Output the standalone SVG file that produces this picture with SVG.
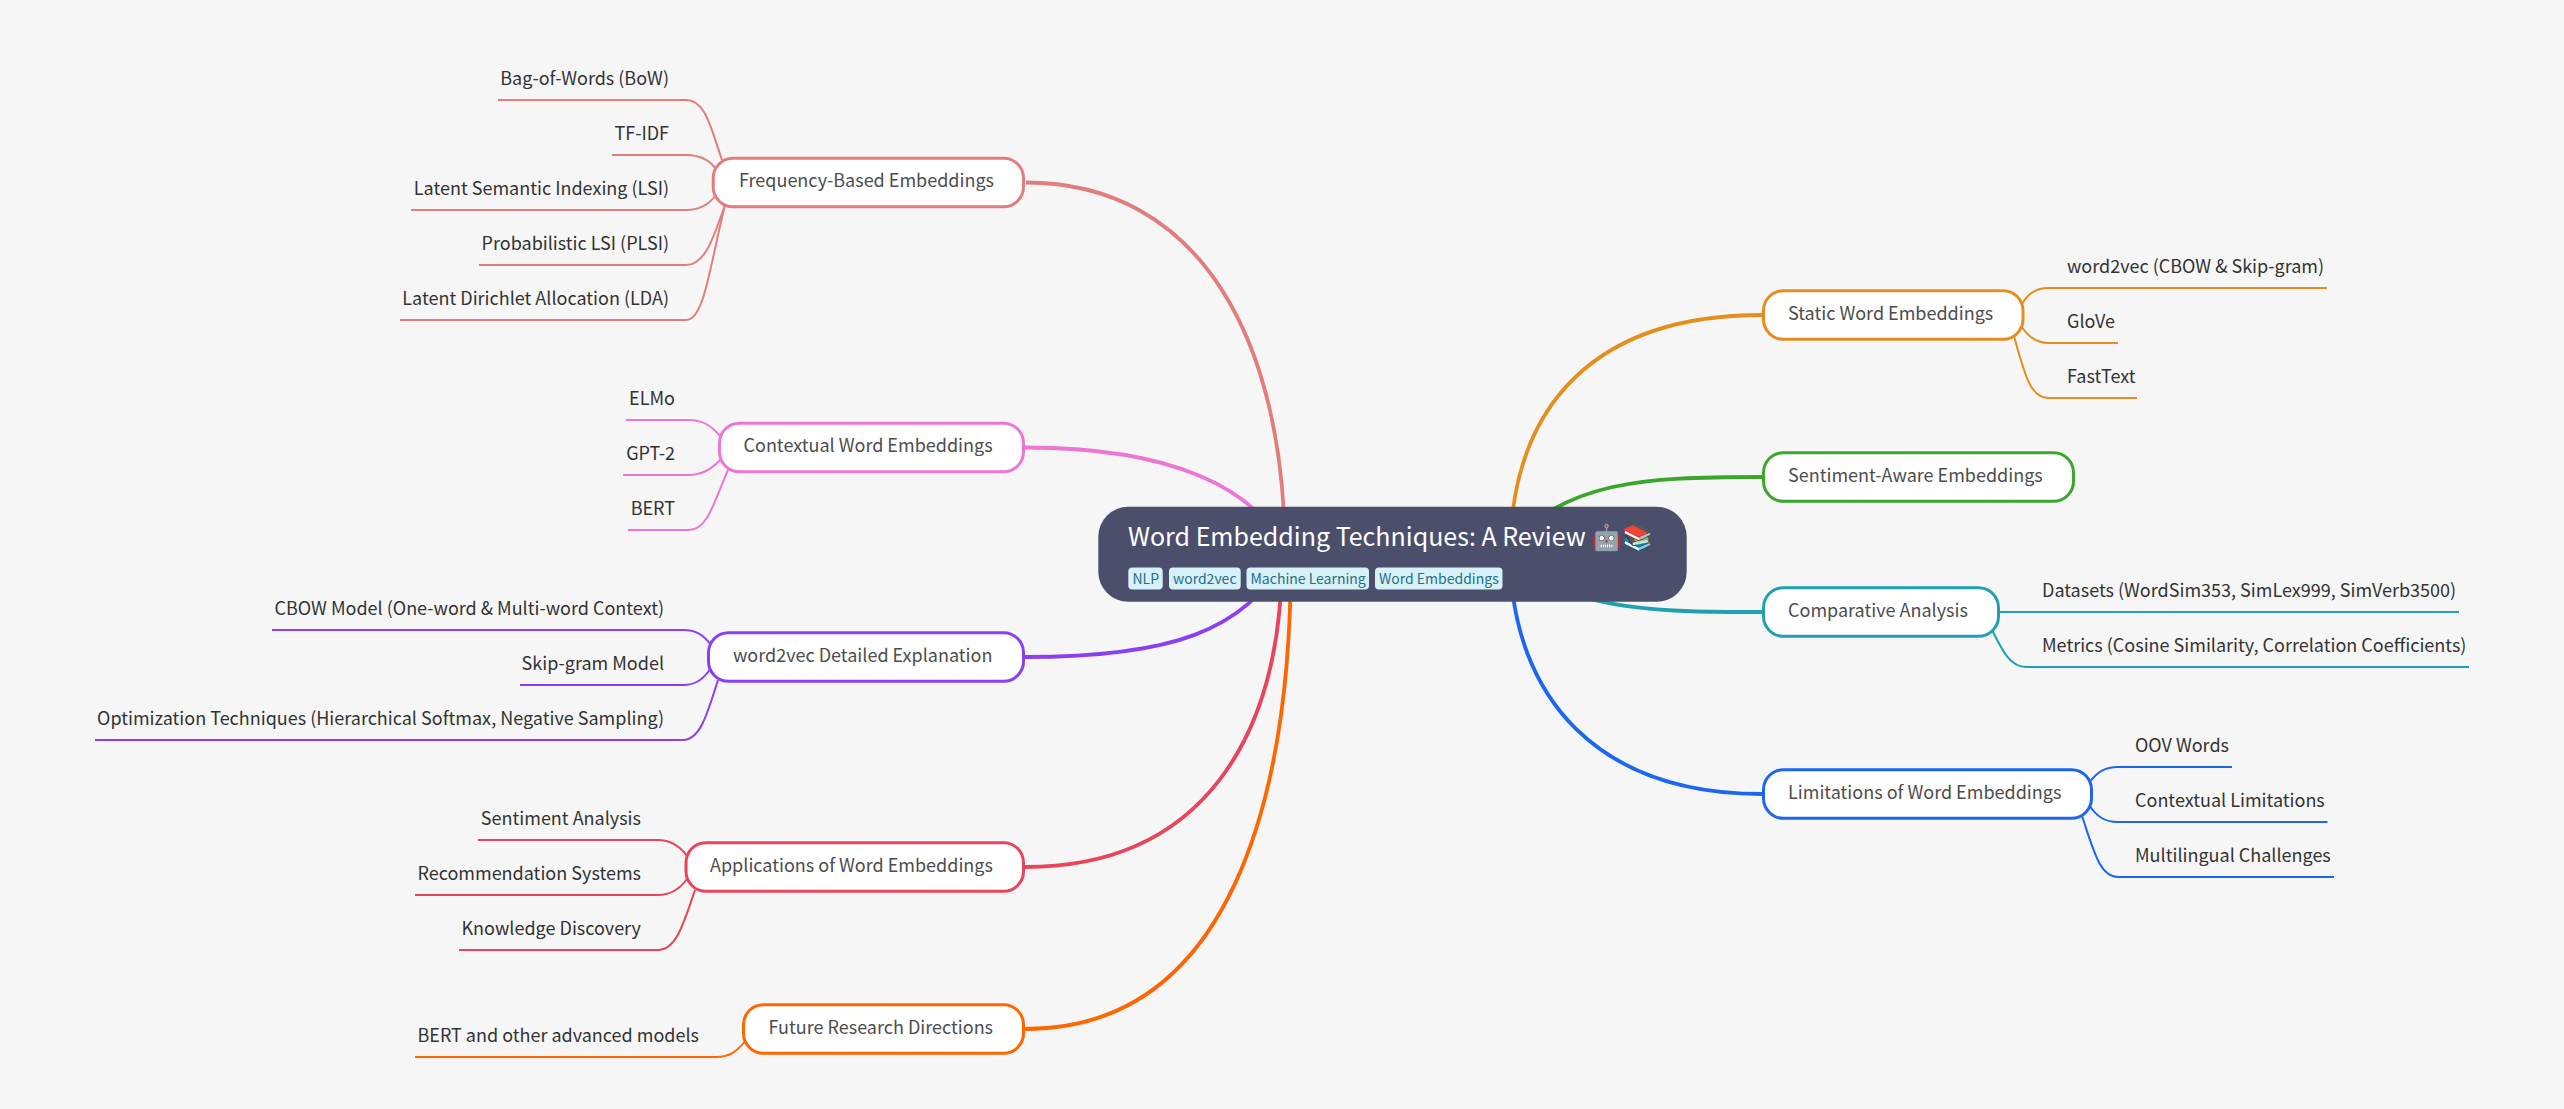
<svg xmlns="http://www.w3.org/2000/svg" width="2564" height="1109" viewBox="0 0 2564 1109">
<style>
text{font-family:"Noto Sans CJK SC","Noto Sans",sans-serif}
.n rect{fill:#fff;stroke-width:3;height:48.6px}
.n text{font-size:18px;fill:#4d4d4d}
.l{font-size:18px;fill:#333}
.e{text-anchor:end}
.s{fill:none;stroke-width:2}
.m{fill:none;stroke-width:3.8}
.t{fill:#d6f1f8}
.tt{font-size:14px;fill:#276f86}
</style>
<rect width="2564" height="1109" fill="#f6f6f6"/>
<g id="connectors">
<path class="m" stroke="#e27d7d" d="M1026 182.5C1200 182.5 1285 340 1285 555"/>
<path class="m" stroke="#ee76d2" d="M1025 447.5C1170 447.5 1258 487 1287 555"/>
<path class="m" stroke="#8a3ff0" d="M1025 657C1170 657 1245 632 1287 555"/>
<path class="m" stroke="#e8455c" d="M1025 867C1200 867 1282 740 1282 555"/>
<path class="m" stroke="#ff6600" d="M1025 1029C1230 1029 1291 800 1291 555"/>
<path class="m" stroke="#e58e1d" d="M1762 315C1600 315 1511 400 1510 555"/>
<path class="m" stroke="#3aa62c" d="M1762 477C1640 477 1570 480 1500 550"/>
<path class="m" stroke="#20a0b0" d="M1762 612C1660 612 1590 612 1505 565"/>
<path class="m" stroke="#1c66f2" d="M1762 794C1600 794 1512 700 1510 555"/>
<g class="s" stroke="#e27d7d">
<path d="M498 100H686C705 100 710 125 722 160"/>
<path d="M612 155H686C698 155 708 158 716 169"/>
<path d="M411 210H686C698 210 708 206 716 195"/>
<path d="M479 265H686C706 265 714 235 725 205"/>
<path d="M400 320H686C704 320 709 270 725 205"/>
</g>
<g class="s" stroke="#ee76d2">
<path d="M626 420H689C702 420 711 425 720 436"/>
<path d="M623 475H689C702 475 711 470 720 460"/>
<path d="M628 530H689C707 530 713 505 728 470"/>
</g>
<g class="s" stroke="#8a3ff0">
<path d="M272 630H683C695 630 703 634 711 645"/>
<path d="M520 685H683C695 685 703 680 711 668"/>
<path d="M95 740H683C700 740 707 715 718 680"/>
</g>
<g class="s" stroke="#e8455c">
<path d="M478 840H658C670 840 679 845 687 856"/>
<path d="M415 895H658C670 895 679 890 687 879"/>
<path d="M459 950H658C676 950 683 925 695 890"/>
</g>
<g class="s" stroke="#ff6600">
<path d="M415 1057H716C728 1057 736 1053 746 1040"/>
</g>
<g class="s" stroke="#e58e1d">
<path d="M2327 288H2048C2035 288 2027 295 2022 304"/>
<path d="M2118 343H2048C2035 343 2027 335 2021 326"/>
<path d="M2137 398H2048C2030 398 2024 372 2014 336"/>
</g>
<g class="s" stroke="#20a0b0">
<path d="M2459 612H1997"/>
<path d="M2469 667H2026C2010 667 2002 650 1992 630"/>
</g>
<g class="s" stroke="#1c66f2">
<path d="M2232 767H2118C2105 767 2097 772 2089 783"/>
<path d="M2327.5 822H2118C2105 822 2097 817 2089 805"/>
<path d="M2334 877H2118C2100 877 2094 852 2082 816"/>
</g>
</g>
<g id="root">
<rect x="1098.3" y="506.7" width="588.4" height="95" rx="30" fill="#4c4f6b"/>
<text x="1128" y="545.5" font-size="25" fill="#fff">Word Embedding Techniques: A Review 🤖📚</text>
<g class="tag"><rect class="t" x="1128.3" y="567.5" width="34.4" height="22" rx="4"/><text class="tt" x="1132.5" y="584">NLP</text></g>
<g class="tag"><rect class="t" x="1169" y="567.5" width="71.7" height="22" rx="4"/><text class="tt" x="1173" y="584">word2vec</text></g>
<g class="tag"><rect class="t" x="1246.5" y="567.5" width="122.5" height="22" rx="4"/><text class="tt" x="1250.5" y="584">Machine Learning</text></g>
<g class="tag"><rect class="t" x="1375" y="567.5" width="127.5" height="22" rx="4"/><text class="tt" x="1379" y="584">Word Embeddings</text></g>
</g>
<g id="frequency" class="n"><rect x="713.2" y="158.2" width="310.3" height="48.6" rx="20" stroke="#e27d7d"/><text x="739" y="187.3">Frequency-Based Embeddings</text></g>
<g id="contextual" class="n"><rect x="719.5" y="423.2" width="304" height="48.6" rx="20" stroke="#ee76d2"/><text x="743.5" y="452">Contextual Word Embeddings</text></g>
<g id="word2vec" class="n"><rect x="708.5" y="632.7" width="315" height="48.6" rx="20" stroke="#8a3ff0"/><text x="733" y="661.5">word2vec Detailed Explanation</text></g>
<g id="applications" class="n"><rect x="686" y="842.7" width="337.5" height="48.6" rx="20" stroke="#e8455c"/><text x="710" y="871.5">Applications of Word Embeddings</text></g>
<g id="future" class="n"><rect x="743.5" y="1004.7" width="280" height="48.6" rx="20" stroke="#ff6600"/><text x="768.5" y="1033.5">Future Research Directions</text></g>
<g id="static" class="n"><rect x="1763.5" y="290.7" width="259.5" height="48.6" rx="20" stroke="#e58e1d"/><text x="1788" y="319.5">Static Word Embeddings</text></g>
<g id="sentiment" class="n"><rect x="1763.5" y="452.7" width="310" height="48.6" rx="20" stroke="#3aa62c"/><text x="1788" y="481.5">Sentiment-Aware Embeddings</text></g>
<g id="comparative" class="n"><rect x="1763.5" y="587.7" width="235" height="48.6" rx="20" stroke="#20a0b0"/><text x="1788" y="616.5">Comparative Analysis</text></g>
<g id="limitations" class="n"><rect x="1763.5" y="769.7" width="328" height="48.6" rx="20" stroke="#1c66f2"/><text x="1788" y="798.5">Limitations of Word Embeddings</text></g>
<g id="leaves-left">
<text class="l e" x="669" y="85">Bag-of-Words (BoW)</text>
<text class="l e" x="669" y="140">TF-IDF</text>
<text class="l e" x="669" y="195">Latent Semantic Indexing (LSI)</text>
<text class="l e" x="669" y="250">Probabilistic LSI (PLSI)</text>
<text class="l e" x="669" y="305">Latent Dirichlet Allocation (LDA)</text>
<text class="l e" x="675" y="405">ELMo</text>
<text class="l e" x="675" y="460">GPT-2</text>
<text class="l e" x="675" y="515">BERT</text>
<text class="l e" x="664" y="615">CBOW Model (One-word &amp; Multi-word Context)</text>
<text class="l e" x="664" y="670">Skip-gram Model</text>
<text class="l e" x="664" y="725">Optimization Techniques (Hierarchical Softmax, Negative Sampling)</text>
<text class="l e" x="641" y="825">Sentiment Analysis</text>
<text class="l e" x="641" y="880">Recommendation Systems</text>
<text class="l e" x="641" y="935">Knowledge Discovery</text>
<text class="l e" x="699" y="1042">BERT and other advanced models</text>
</g>
<g id="leaves-right">
<text class="l" x="2067" y="273">word2vec (CBOW &amp; Skip-gram)</text>
<text class="l" x="2067" y="328">GloVe</text>
<text class="l" x="2067" y="383">FastText</text>
<text class="l" x="2042" y="597">Datasets (WordSim353, SimLex999, SimVerb3500)</text>
<text class="l" x="2042" y="652">Metrics (Cosine Similarity, Correlation Coefficients)</text>
<text class="l" x="2135" y="752">OOV Words</text>
<text class="l" x="2135" y="807">Contextual Limitations</text>
<text class="l" x="2135" y="862">Multilingual Challenges</text>
</g>
</svg>
